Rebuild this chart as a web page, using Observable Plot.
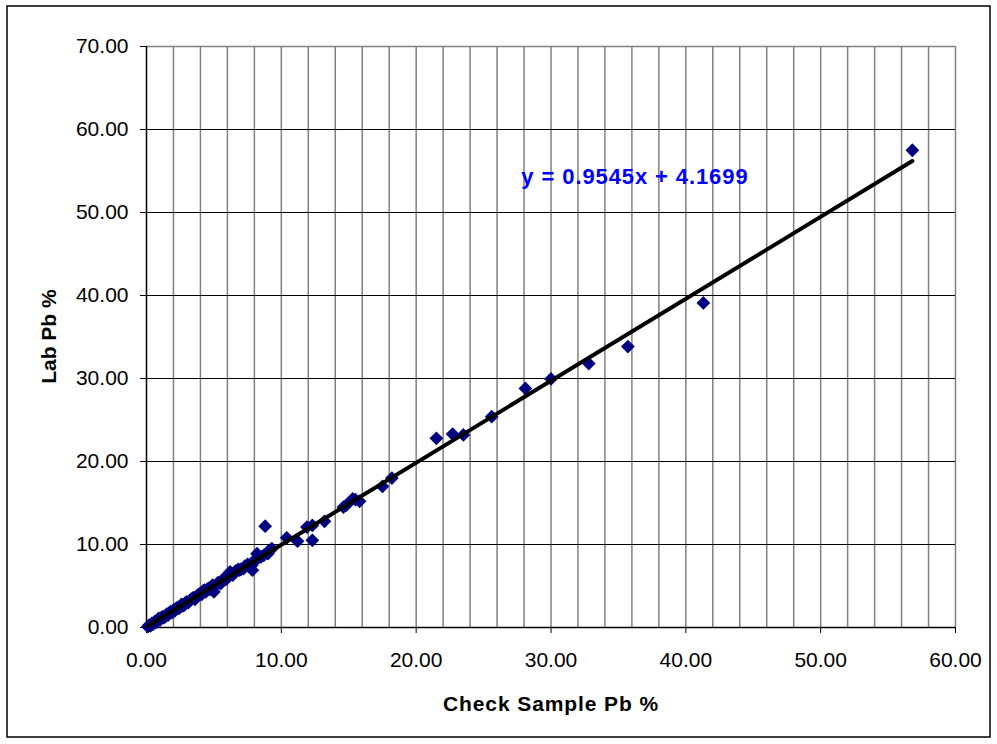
<!DOCTYPE html>
<html>
<head>
<meta charset="utf-8">
<script src="https://cdn.jsdelivr.net/npm/d3@7"></script>
<script src="https://cdn.jsdelivr.net/npm/@observablehq/plot@0.6"></script>
<style>
  html, body { margin: 0; padding: 0; background: #fff; }
  #chart { position: relative; width: 997px; height: 744px; }
</style>
</head>
<body>
<div id="chart"></div>
<script>
// Data
const checkPb = [
  0.1, 0.2, 0.3, 0.4, 0.5, 0.6, 0.7, 0.8, 0.9, 1.0, 1.1, 1.2, 1.3, 1.4, 1.5, 1.6, 1.7, 1.8, 1.9, 2.0,
  2.1, 2.2, 2.3, 2.4, 2.5, 2.6, 2.7, 2.8, 2.9, 3.0, 3.1, 3.2, 3.3, 3.4, 3.5, 3.6, 3.7, 3.8, 3.9, 4.0,
  4.1, 4.2, 4.3, 4.4, 4.5, 4.6, 4.7, 4.8, 4.9, 5.0, 5.1, 5.3, 5.5, 5.6, 5.8, 5.9, 6.0, 6.1, 6.2, 6.3,
  6.4, 6.6, 6.8, 6.9, 7.0, 7.2, 7.3, 7.5, 7.6, 7.8, 7.85, 8.0, 8.2, 8.3, 8.5, 8.7, 8.8, 9.0, 9.1, 9.3,
  10.4, 11.2, 11.9, 12.3, 12.3, 13.2, 14.6, 14.8, 15.3, 15.5, 15.8, 17.5, 18.2,
  21.5, 22.7, 23.5, 25.6, 28.1, 30.0, 32.8, 35.7, 41.3, 56.8
];
const labPb = [
  0.1, 0.3, 0.2, 0.5, 0.4, 0.7, 0.6, 0.8, 1.1, 0.9, 1.2, 1.3, 1.2, 1.3, 1.6, 1.5, 1.8, 1.9, 1.8, 2.1,
  2.0, 2.3, 2.4, 2.3, 2.5, 2.8, 2.6, 2.7, 3.0, 3.1, 3.0, 3.2, 3.4, 3.5, 3.6, 3.4, 3.7, 3.9, 4.0, 4.1,
  4.0, 4.4, 4.5, 4.3, 4.6, 4.7, 4.6, 4.9, 5.1, 4.3, 5.0, 5.4, 5.3, 5.7, 5.9, 5.8, 6.0, 6.5, 6.7, 6.4,
  6.3, 6.8, 7.0, 6.9, 7.0, 7.1, 7.4, 7.6, 7.4, 7.5, 6.9, 8.1, 8.9, 8.4, 8.5, 8.7, 12.2, 8.9, 9.3, 9.5,
  10.8, 10.4, 12.1, 10.5, 12.3, 12.8, 14.5, 14.7, 15.5, 15.4, 15.2, 17.0, 18.0,
  22.8, 23.3, 23.2, 25.4, 28.8, 29.95, 31.8, 33.85, 39.1, 57.5
];
const xTicks = [0, 10, 20, 30, 40, 50, 60];
const yTicks = [0, 10, 20, 30, 40, 50, 60, 70];
const xMinorGrid = [2, 4, 6, 8, 10, 12, 14, 16, 18, 20, 22, 24, 26, 28, 30, 32, 34, 36, 38, 40, 42, 44, 46, 48, 50, 52, 54, 56, 58, 60];
const yGrid = [10, 20, 30, 40, 50, 60];
const xTitle = "Check Sample Pb %";
const yTitle = "Lab Pb %";
const equation = "y = 0.9545x + 4.1699";
const equationAt = {x: 27.8, y: 53.4};
const yTitleAt = {x: -7.24, y: 35.05};

const points = checkPb.map((x, i) => ({x, y: labPb[i]}));

const chart = Plot.plot({
  width: 997,
  height: 744,
  marginLeft: 146,
  marginRight: 42,
  marginTop: 46,
  marginBottom: 117,
  style: {fontFamily: "Arial, 'Liberation Sans', sans-serif", fontSize: "21px", background: "#fff", color: "#000", overflow: "visible"},
  x: {domain: [0, 60]},
  y: {domain: [0, 70]},
  marks: [
    Plot.ruleX(xMinorGrid, {stroke: "#808080", strokeWidth: 1.5, strokeOpacity: 1}),
    Plot.ruleY(yGrid, {stroke: "#000", strokeWidth: 1}),
    Plot.ruleY([70], {stroke: "#808080", strokeWidth: 1.5}),
    Plot.axisX({ticks: xTicks, tickFormat: d => d.toFixed(2), tickSize: 6, tickPadding: 19, label: null, stroke: "#000"}),
    Plot.axisY({ticks: yTicks, tickFormat: d => d.toFixed(2), tickSize: 6, tickPadding: 12, label: null, stroke: "#000"}),
    Plot.ruleX([0], {stroke: "#000", strokeWidth: 1.5}),
    Plot.ruleY([0], {stroke: "#000", strokeWidth: 1.5}),
    Plot.dot(points, {x: "x", y: "y", symbol: "diamond2", r: 6.2, fill: "#000080", stroke: "none"}),
    Plot.linearRegressionY(points, {x: "x", y: "y", stroke: "#000", strokeWidth: 4, ci: 0}),
    Plot.text([equation], {x: () => equationAt.x, y: () => equationAt.y, text: d => d, textAnchor: "start", lineAnchor: "bottom", fill: "#0000FF", fontSize: 22, fontWeight: "bold"}),
    Plot.text([xTitle], {frameAnchor: "bottom", dy: 83, text: d => d, lineAnchor: "bottom", fontSize: 21, fontWeight: "bold", fill: "#000"}),
    Plot.text([yTitle], {x: () => yTitleAt.x, y: () => yTitleAt.y, rotate: -90, text: d => d, fontSize: 21, fontWeight: "bold", fill: "#000"})
  ]
});

d3.select(chart).selectAll("text").each(function() {
  const t = this.textContent;
  if (t === equation) this.setAttribute("letter-spacing", "0.9");
  if (t === xTitle) this.setAttribute("letter-spacing", "0.9");
});
// outer chart border
d3.select(chart).append("rect")
  .attr("x", 7).attr("y", 6).attr("width", 983).attr("height", 731)
  .attr("fill", "none").attr("stroke", "#000").attr("stroke-width", 1.5);

document.getElementById("chart").appendChild(chart);
</script>
</body>
</html>
